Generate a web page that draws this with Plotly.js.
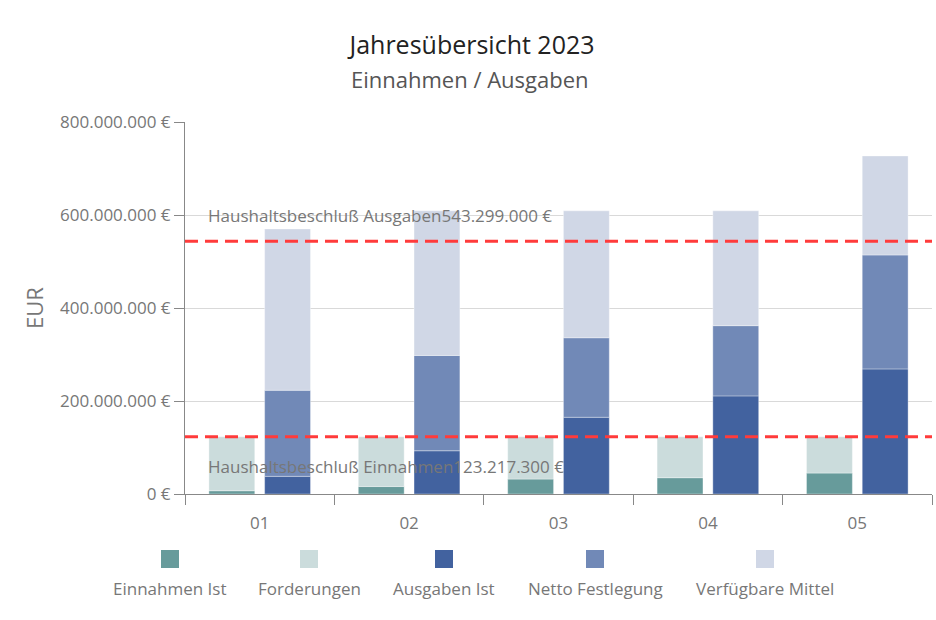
<!DOCTYPE html>
<html>
<head>
<meta charset="utf-8">
<script src="https://cdn.plot.ly/plotly-3.0.1.min.js"></script>
<style>
  html, body { margin: 0; padding: 0; background: #ffffff; }
  #chart { width: 936px; height: 620px; }
</style>
</head>
<body>
<div id="chart"></div>
<script>
// ---- data (EUR) ----
const months = ['01', '02', '03', '04', '05'];
const einnahmenIst = [7000000, 16000000, 32000000, 35000000, 45000000];
const forderungen = [116000000, 107000000, 91000000, 88000000, 78000000];
const ausgabenIst = [38000000, 93000000, 165000000, 211000000, 269000000];
const nettoFestlegung = [185000000, 205000000, 171000000, 151000000, 245000000];
const verfuegbareMittel = [347000000, 311000000, 273000000, 247000000, 213000000];
const planEinnahmen = 123217300;
const planAusgaben = 543299000;
const seriesNames = ['Einnahmen Ist', 'Forderungen', 'Ausgaben Ist', 'Netto Festlegung', 'Verfügbare Mittel'];
const yTicks = [0, 200000000, 400000000, 600000000, 800000000];

// ---- styles ----
const colors = ['#679b9b', '#cbdcdc', '#42629f', '#7189b7', '#d0d7e6'];
const FONT = '"Segoe UI", "Open Sans", "Noto Sans", sans-serif';
const GRAY = '#777777';

function fmtEUR(v) {
  return Math.round(v).toString().replace(/\B(?=(\d{3})+(?!\d))/g, '.') + ' €';
}
function addArr(a, b) { return a.map((v, i) => v + b[i]); }

const baseAusg2 = ausgabenIst;
const baseAusg3 = addArr(ausgabenIst, nettoFestlegung);

const W = 0.307;
const OFF_E = -0.34;
const OFF_A = 0.033;
const lineStyle = { width: 1, color: 'rgba(255,255,255,0.35)' };

const traces = [
  { type: 'bar', name: seriesNames[0], x: months, y: einnahmenIst, base: months.map(() => 0),
    width: W, offset: OFF_E, marker: { color: colors[0], line: lineStyle }, showlegend: false },
  { type: 'bar', name: seriesNames[1], x: months, y: forderungen, base: einnahmenIst,
    width: W, offset: OFF_E, marker: { color: colors[1], line: lineStyle }, showlegend: false },
  { type: 'bar', name: seriesNames[2], x: months, y: ausgabenIst, base: months.map(() => 0),
    width: W, offset: OFF_A, marker: { color: colors[2], line: lineStyle }, showlegend: false },
  { type: 'bar', name: seriesNames[3], x: months, y: nettoFestlegung, base: baseAusg2,
    width: W, offset: OFF_A, marker: { color: colors[3], line: lineStyle }, showlegend: false },
  { type: 'bar', name: seriesNames[4], x: months, y: verfuegbareMittel, base: baseAusg3,
    width: W, offset: OFF_A, marker: { color: colors[4], line: lineStyle }, showlegend: false }
];

// plot area geometry helpers (paper coords)
const L = 185, R = 4, T = 122, B = 126, FW = 936, FH = 620;
const PW = FW - L - R, PH = FH - T - B;
const px = x => (x - L) / PW;
const py = y => (FH - B - y) / PH;

const shapes = [
  { type: 'line', xref: 'paper', x0: 0, x1: 1, yref: 'y', y0: planAusgaben, y1: planAusgaben,
    line: { color: '#ff3b3b', width: 3, dash: '13px,7px' } },
  { type: 'line', xref: 'paper', x0: 0, x1: 1, yref: 'y', y0: planEinnahmen, y1: planEinnahmen,
    line: { color: '#ff3b3b', width: 3, dash: '13px,7px' } }
];

const annotations = [
  { xref: 'paper', yref: 'y', x: px(206), y: planAusgaben, xanchor: 'left', yanchor: 'middle',
    yshift: 26, showarrow: false, text: 'Haushaltsbeschluß Ausgaben' + fmtEUR(planAusgaben),
    font: { family: FONT, size: 17, color: GRAY } },
  { xref: 'paper', yref: 'y', x: px(206), y: planEinnahmen, xanchor: 'left', yanchor: 'middle',
    yshift: -30, showarrow: false, text: 'Haushaltsbeschluß Einnahmen' + fmtEUR(planEinnahmen),
    font: { family: FONT, size: 17, color: GRAY } },
  { xref: 'paper', yref: 'paper', x: px(470), y: py(79), xanchor: 'center', yanchor: 'middle',
    showarrow: false, text: 'Einnahmen / Ausgaben',
    font: { family: FONT, size: 22, color: '#555555' } },
  { xref: 'paper', yref: 'paper', x: px(34), y: py(308), xanchor: 'center', yanchor: 'middle',
    textangle: -90, showarrow: false, text: 'EUR',
    font: { family: FONT, size: 22, color: GRAY } }
];

// custom legend: square above label
const legendCenters = [170, 309, 444, 595, 765];
seriesNames.forEach((n, i) => {
  const cx = legendCenters[i];
  shapes.push({ type: 'rect', xref: 'paper', yref: 'paper',
    x0: px(cx - 9), x1: px(cx + 9), y0: py(568), y1: py(550),
    fillcolor: colors[i], line: { width: 0 } });
  annotations.push({ xref: 'paper', yref: 'paper', x: px(cx), y: py(588),
    xanchor: 'center', yanchor: 'middle', showarrow: false, text: n,
    font: { family: FONT, size: 17, color: GRAY } });
});

const layout = {
  width: FW, height: FH,
  margin: { l: L, r: R, t: T, b: B, pad: 0 },
  paper_bgcolor: '#ffffff', plot_bgcolor: '#ffffff',
  separators: ',.',
  barmode: 'overlay',
  showlegend: false,
  font: { family: FONT, size: 17, color: GRAY },
  title: { text: 'Jahresübersicht 2023', x: 472 / FW, xref: 'container', xanchor: 'center',
    y: 1 - 45 / FH, yref: 'container', yanchor: 'middle',
    font: { family: FONT, size: 25, color: '#222222' } },
  xaxis: {
    type: 'category', range: [-0.5, 4.5], tickson: 'boundaries',
    ticks: 'outside', ticklen: 10, tickcolor: '#888888', tickwidth: 1,
    ticklabelstandoff: 14,
    showline: true, linecolor: '#888888', linewidth: 1,
    showgrid: false, zeroline: false,
    tickfont: { family: FONT, size: 17, color: GRAY }
  },
  yaxis: {
    range: [0, 800000000], tickvals: yTicks, ticktext: yTicks.map(fmtEUR),
    ticks: 'outside', ticklen: 10, tickcolor: '#888888', tickwidth: 1,
    showline: true, linecolor: '#888888', linewidth: 1,
    showgrid: true, gridcolor: '#d9d9d9', gridwidth: 1, zeroline: false,
    tickfont: { family: FONT, size: 17, color: GRAY }
  },
  shapes: shapes,
  annotations: annotations
};

Plotly.newPlot('chart', traces, layout, { displayModeBar: false, staticPlot: true });
</script>
</body>
</html>
